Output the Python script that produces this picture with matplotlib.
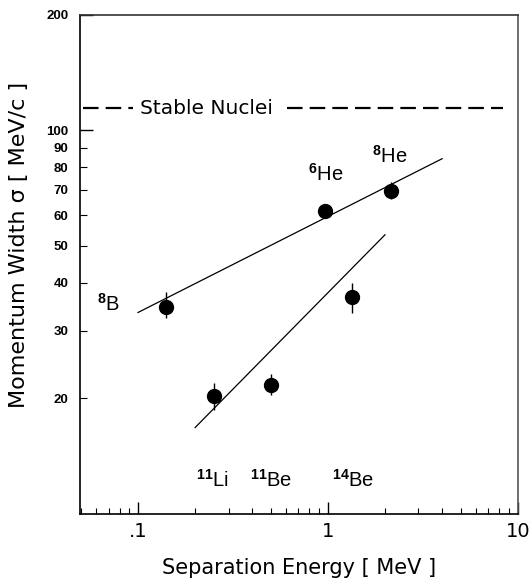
import matplotlib
matplotlib.use("Agg")
import matplotlib.pyplot as plt
from matplotlib.ticker import FixedLocator, FixedFormatter, NullFormatter

plt.rcParams['mathtext.fontset'] = 'custom'
plt.rcParams['mathtext.rm'] = 'Liberation Sans'
plt.rcParams['mathtext.bf'] = 'Liberation Sans:bold'
plt.rcParams['mathtext.it'] = 'Liberation Sans:italic'

# ---- data ----
nuclei = ["8B", "11Li", "11Be", "14Be", "6He", "8He"]
sep_energy = [0.14, 0.25, 0.50, 1.34, 0.97, 2.15]
width = [34.7, 20.3, 21.7, 36.8, 61.5, 69.6]
err_lo = [2.3, 1.6, 1.3, 3.4, 0.0, 3.3]
err_hi = [3.1, 1.6, 1.4, 3.1, 0.0, 3.6]

fit1_x = [0.1, 4.0]
fit1_y = [33.5, 84.3]
fit2_x = [0.2, 2.0]
fit2_y = [16.8, 53.4]

stable_width = 114

label_text = [r"$^{\mathbf{8}}$B", r"$^{\mathbf{11}}$Li", r"$^{\mathbf{11}}$Be",
              r"$^{\mathbf{14}}$Be", r"$^{\mathbf{6}}$He", r"$^{\mathbf{8}}$He"]
label_x = [0.070, 0.245, 0.50, 1.35, 0.98, 2.12]
label_y = [35.2, 12.27, 12.27, 12.27, 77.2, 86.0]

yticks_major = [100, 200]
yticks_minor = [20, 30, 40, 50, 60, 70, 80, 90]
xticks_major = [0.1, 1, 10]
xtick_labels = [".1", "1", "10"]

# ---- figure ----
fig = plt.figure(figsize=(5.32, 5.81), dpi=100)
ax = fig.add_axes([80/532, 1 - 514/581, (517.7-80)/532, (514-14.7)/581])
ax.set_xscale('log')
ax.set_yscale('log')
ax.set_xlim(0.0495, 10)
ax.set_ylim(10, 200)

ax.plot(fit1_x, fit1_y, color='black', lw=0.9)
ax.plot(fit2_x, fit2_y, color='black', lw=0.9)

ax.errorbar(sep_energy, width, yerr=[err_lo, err_hi], fmt='o', color='black',
            ms=10, elinewidth=1.0, capsize=0, zorder=3)

for t, x, y in zip(label_text, label_x, label_y):
    ax.text(x, y, t, fontsize=14.5, family='Liberation Sans', ha='center', va='center')

# stable nuclei dashed line
ax.plot([0.0512, 8.34], [stable_width, stable_width], color='black', lw=1.6,
        linestyle=(0, (7, 3.2)))
ax.text(0.230, stable_width, "Stable Nuclei", fontsize=14.5, family='DejaVu Sans',
        ha='center', va='center',
        bbox=dict(facecolor='white', edgecolor='none', pad=5.0))

# ticks
ax.xaxis.set_major_locator(FixedLocator(xticks_major))
ax.xaxis.set_major_formatter(FixedFormatter(xtick_labels))
ax.xaxis.set_minor_formatter(NullFormatter())
ax.tick_params(axis='x', which='major', direction='in', length=9, width=1,
               labelsize=14, pad=6, top=False)
ax.tick_params(axis='x', which='minor', direction='in', length=4, width=0.8, top=False)

ax.yaxis.set_major_locator(FixedLocator(yticks_major))
ax.yaxis.set_major_formatter(FixedFormatter([str(v) for v in yticks_major]))
ax.yaxis.set_minor_locator(FixedLocator(yticks_minor))
ax.yaxis.set_minor_formatter(FixedFormatter([str(v) for v in yticks_minor]))
ax.tick_params(axis='y', which='major', direction='in', length=9, width=1,
               labelsize=9.5, pad=8.5, right=False)
ax.tick_params(axis='y', which='minor', direction='in', length=5, width=0.8,
               labelsize=9.5, pad=8.5, right=False)
for lab in ax.get_yticklabels(which='both'):
    lab.set_fontweight('bold')
    lab.set_family('Liberation Sans')

for s in ax.spines.values():
    s.set_linewidth(1.2)
ax.spines['top'].set_color('#333333')
ax.spines['right'].set_color('#555555')

ax.set_xlabel("Separation Energy [ MeV ]", fontsize=15, family='DejaVu Sans')
ax.xaxis.label.set_va('center')
ax.xaxis.set_label_coords(0.5, -0.108)
ax.set_ylabel("Momentum Width σ [ MeV/c ]", fontsize=16, family='DejaVu Sans')
ax.yaxis.label.set_va('center')
ax.yaxis.set_label_coords(-0.139, 0.539)

fig.savefig("out.png", dpi=100)
